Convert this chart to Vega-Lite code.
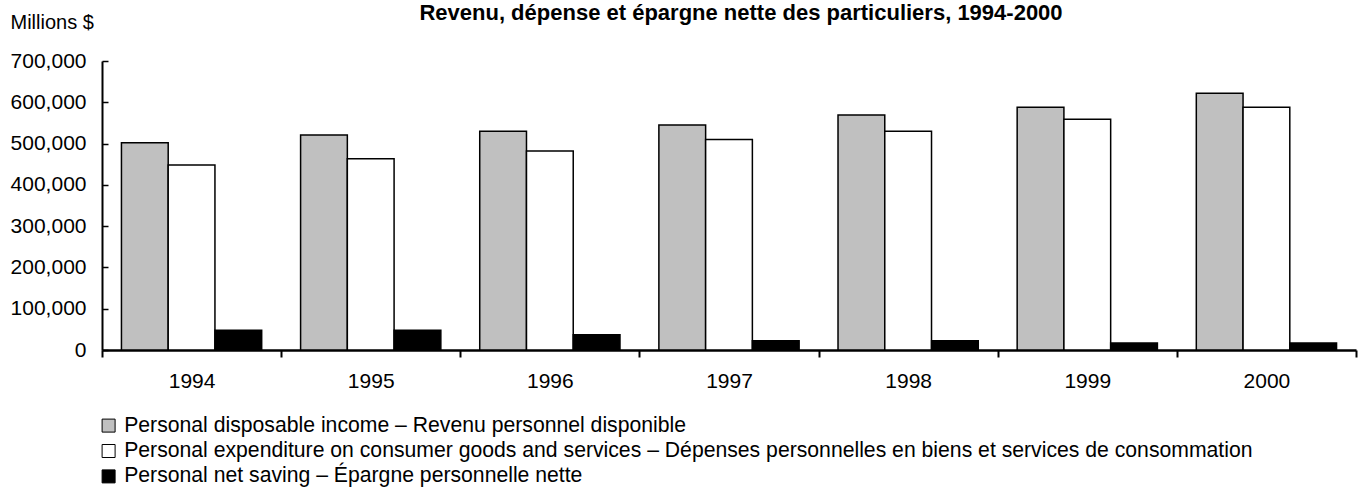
{
  "$schema": "https://vega.github.io/schema/vega-lite/v6.json",
  "width": 1254,
  "height": 289,
  "autosize": {"type": "none"},
  "padding": {"left": 102, "top": 61, "right": 3, "bottom": 141},
  "background": "white",
  "title": {
    "text": "Revenu, dépense et épargne nette des particuliers, 1994-2000",
    "font": "Liberation Sans",
    "fontSize": 22,
    "fontWeight": "bold",
    "color": "black",
    "anchor": "middle",
    "baseline": "alphabetic",
    "dx": 12,
    "dy": 34
  },
  "data": {
    "values": [
      {"year": "1994", "series": "income", "value": 502000},
      {"year": "1994", "series": "expenditure", "value": 448000},
      {"year": "1994", "series": "saving", "value": 48000},
      {"year": "1995", "series": "income", "value": 521000},
      {"year": "1995", "series": "expenditure", "value": 463000},
      {"year": "1995", "series": "saving", "value": 48000},
      {"year": "1996", "series": "income", "value": 530000},
      {"year": "1996", "series": "expenditure", "value": 482000},
      {"year": "1996", "series": "saving", "value": 37000},
      {"year": "1997", "series": "income", "value": 545000},
      {"year": "1997", "series": "expenditure", "value": 510000},
      {"year": "1997", "series": "saving", "value": 22500},
      {"year": "1998", "series": "income", "value": 569000},
      {"year": "1998", "series": "expenditure", "value": 530000},
      {"year": "1998", "series": "saving", "value": 22500},
      {"year": "1999", "series": "income", "value": 588000},
      {"year": "1999", "series": "expenditure", "value": 559000},
      {"year": "1999", "series": "saving", "value": 17000},
      {"year": "2000", "series": "income", "value": 622000},
      {"year": "2000", "series": "expenditure", "value": 588000},
      {"year": "2000", "series": "saving", "value": 17000}
    ]
  },
  "mark": {"type": "bar", "stroke": "black", "strokeWidth": 1.5},
  "encoding": {
    "x": {
      "field": "year",
      "type": "nominal",
      "scale": {"paddingInner": 0, "paddingOuter": 0},
      "axis": {
        "title": null,
        "labelAngle": 0,
        "tickBand": "extent",
        "domainColor": "black",
        "domainWidth": 2.5,
        "tickColor": "black",
        "tickWidth": 2,
        "tickSize": 7,
        "labelFont": "Liberation Sans",
        "labelFontSize": 21,
        "labelColor": "black",
        "labelBaseline": "alphabetic",
        "labelPadding": 30
      }
    },
    "xOffset": {
      "field": "series",
      "type": "nominal",
      "scale": {"domain": ["income", "expenditure", "saving"], "paddingInner": 0, "paddingOuter": 0.416}
    },
    "y": {
      "field": "value",
      "type": "quantitative",
      "scale": {"domain": [0, 700000], "nice": false},
      "axis": {
        "title": "Millions $",
        "titleAngle": 0,
        "titleAlign": "left",
        "titleBaseline": "alphabetic",
        "titleX": -92,
        "titleY": -33,
        "titleFont": "Liberation Sans",
        "titleFontSize": 20,
        "titleFontWeight": "normal",
        "titleColor": "black",
        "values": [0, 100000, 200000, 300000, 400000, 500000, 600000, 700000],
        "format": ",d",
        "grid": false,
        "domainColor": "black",
        "domainWidth": 2,
        "tickColor": "black",
        "tickWidth": 1.5,
        "tickSize": -6,
        "labelFont": "Liberation Sans",
        "labelFontSize": 21,
        "labelColor": "black",
        "labelPadding": 22
      }
    },
    "color": {
      "field": "series",
      "type": "nominal",
      "scale": {
        "domain": ["income", "expenditure", "saving"],
        "range": ["#c0c0c0", "#ffffff", "#000000"]
      },
      "legend": {
        "title": null,
        "orient": "none",
        "legendX": -4,
        "legendY": 354,
        "padding": 0,
        "direction": "vertical",
        "symbolType": "square",
        "symbolSize": 169,
        "symbolStrokeColor": "black",
        "symbolStrokeWidth": 1,
        "symbolOpacity": 1,
        "labelFont": "Liberation Sans",
        "labelFontSize": 21.2,
        "labelColor": "black",
        "labelLimit": 0,
        "labelOffset": 5,
        "rowPadding": 3.4,
        "labelExpr": "datum.value == 'income' ? 'Personal disposable income – Revenu personnel disponible' : datum.value == 'expenditure' ? 'Personal expenditure on consumer goods and services  – Dépenses personnelles en biens et services de consommation' : 'Personal net saving – Épargne personnelle nette'"
      }
    }
  },
  "config": {"view": {"stroke": null}}
}
